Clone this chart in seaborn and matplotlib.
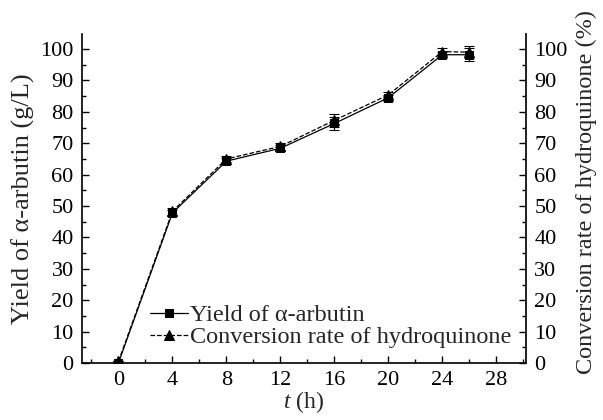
import matplotlib
matplotlib.use("Agg")
import matplotlib.pyplot as plt
import seaborn as sns
import pandas as pd
from matplotlib.ticker import MultipleLocator

t_h = [0, 4, 8, 12, 16, 20, 24, 26]
yield_arbutin = [0.0, 47.8, 64.3, 68.4, 76.3, 84.5, 98.2, 98.2]
yield_err = [0.0, 1.0, 1.0, 1.0, 2.0, 1.0, 1.0, 2.0]
conversion = [0.5, 48.3, 65.0, 69.0, 77.3, 85.4, 99.2, 99.0]
conversion_err = [0.0, 1.0, 1.0, 1.0, 2.0, 1.0, 1.0, 2.0]
x_ticks = [0, 4, 8, 12, 16, 20, 24, 28]
y_ticks = [0, 10, 20, 30, 40, 50, 60, 70, 80, 90, 100]

sns.set_theme(style="ticks")
plt.rcParams['font.family'] = ['Liberation Serif', 'DejaVu Serif']
plt.rcParams['mathtext.fontset'] = 'custom'
plt.rcParams['mathtext.it'] = 'Liberation Serif:italic'
plt.rcParams['mathtext.rm'] = 'Liberation Serif'

df_y = pd.DataFrame({"t": t_h, "v": yield_arbutin})
df_c = pd.DataFrame({"t": t_h, "v": conversion})

fig = plt.figure(figsize=(6.03, 4.2), dpi=100)
ax = fig.add_axes([82/603, 1-363/420, (526-82)/603, (363-34)/420])

ax.errorbar(t_h, yield_arbutin, yerr=yield_err, fmt='none', ecolor='black',
            elinewidth=0.8, capsize=3.5, capthick=0.8)
ax.errorbar(t_h, conversion, yerr=conversion_err, fmt='none', ecolor='black',
            elinewidth=0.8, capsize=3.5, capthick=0.8)
sns.lineplot(data=df_y, x="t", y="v", ax=ax, color='black', lw=0.9,
             marker='s', markersize=6, markeredgecolor='black',
             label="Yield of α-arbutin")
sns.lineplot(data=df_c, x="t", y="v", ax=ax, color='black', lw=0.9,
             linestyle='--', marker='^', markersize=7, markeredgecolor='black',
             label="Conversion rate of hydroquinone")

ax.set_xlim(-2.7, 30.2)
ax.set_ylim(0, 104.8)
ax.set_xticks(x_ticks)
ax.set_yticks(y_ticks)
ax.xaxis.set_minor_locator(MultipleLocator(2))
ax.yaxis.set_minor_locator(MultipleLocator(5))
ax.tick_params(which='both', direction='in', labelsize=16, colors='black')
ax.tick_params(axis='x', pad=6)
ax.tick_params(axis='y', pad=6)
ax.tick_params(which='major', length=5, width=1)
ax.tick_params(which='minor', length=3, width=1)
ax.spines['top'].set_visible(False)
for s in ['left', 'bottom', 'right']:
    ax.spines[s].set_linewidth(1.2)
    ax.spines[s].set_color('black')
ax.set_xlabel(r"$t$ (h)", fontsize=17, labelpad=-1)
ax.set_ylabel("Yield of α-arbutin (g/L)", fontsize=19, labelpad=4)

ax2 = ax.twinx()
ax2.set_ylim(0, 104.8)
ax2.set_yticks(y_ticks)
ax2.yaxis.set_minor_locator(MultipleLocator(5))
ax2.tick_params(which='both', direction='in', labelsize=16, colors='black')
ax2.tick_params(axis='y', pad=6)
ax2.tick_params(which='major', length=5, width=1)
ax2.tick_params(which='minor', length=3, width=1)
ax2.spines['top'].set_visible(False)
ax2.spines['left'].set_visible(False)
ax2.spines['bottom'].set_visible(False)
ax2.spines['right'].set_linewidth(1.2)
ax2.set_ylabel("Conversion rate of hydroquinone (%)", fontsize=17.5, labelpad=3)
ax2.yaxis.set_label_coords(1.112, 0.52)

leg = ax.legend(loc='lower left', bbox_to_anchor=(0.12, 0.0), frameon=False,
                fontsize=17.5, handlelength=1.55, handletextpad=0.12,
                borderaxespad=0.2, labelspacing=0.0)

fig.savefig("out.png", dpi=100)
